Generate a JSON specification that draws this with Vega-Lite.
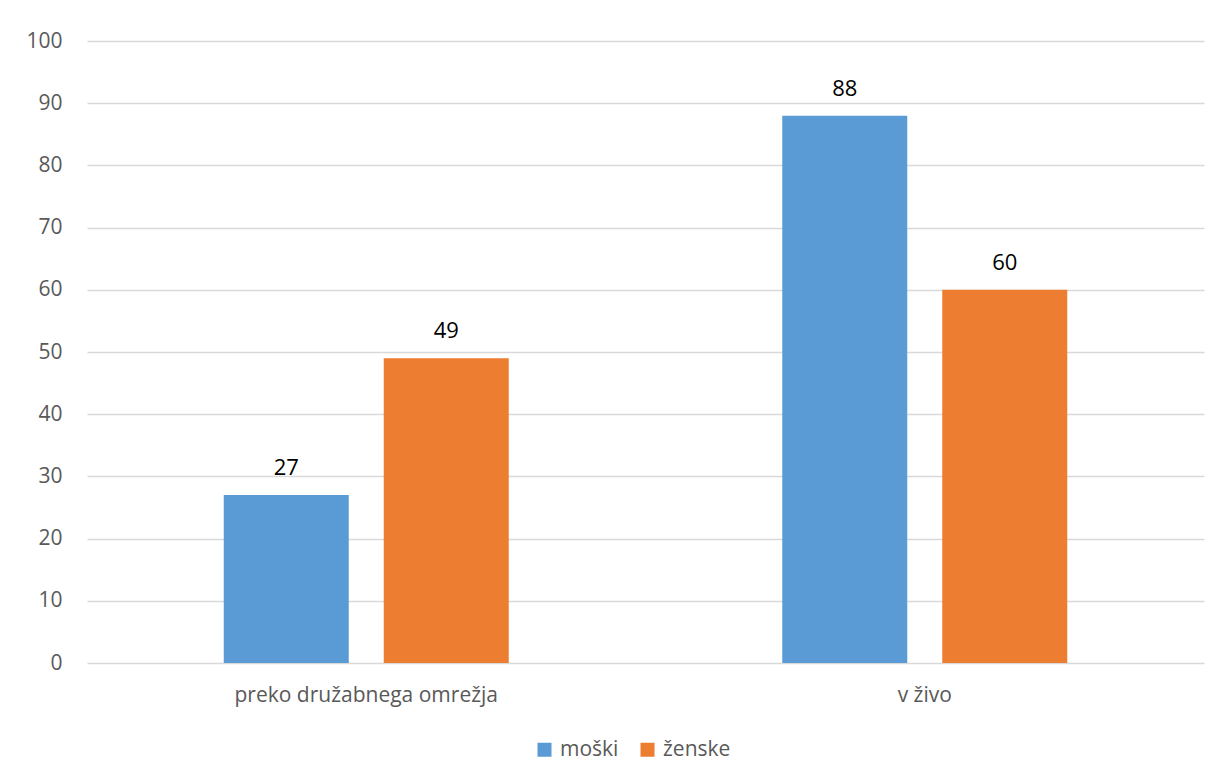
{
  "$schema": "https://vega.github.io/schema/vega-lite/v6.json",
  "width": 1117,
  "height": 622,
  "autosize": "none",
  "padding": {"left": 87, "top": 41, "right": 19, "bottom": 113},
  "background": "white",
  "config": {
    "view": {"stroke": null},
    "font": "Open Sans",
    "axis": {"labelFont": "Open Sans", "labelColor": "#595959", "labelFontSize": 21, "domain": false, "ticks": false, "title": null},
    "legend": {"labelFont": "Open Sans", "labelColor": "#595959", "labelFontSize": 21}
  },
  "data": {
    "values": [
      {"kategorija": "preko družabnega omrežja", "spol": "moški", "vrednost": 27},
      {"kategorija": "preko družabnega omrežja", "spol": "ženske", "vrednost": 49},
      {"kategorija": "v živo", "spol": "moški", "vrednost": 88},
      {"kategorija": "v živo", "spol": "ženske", "vrednost": 60}
    ]
  },
  "encoding": {
    "x": {
      "field": "kategorija", "type": "nominal", "sort": null,
      "scale": {"paddingInner": 0, "paddingOuter": 0},
      "axis": {"labelAngle": 0, "labelPadding": 21, "grid": false, "labelLimit": 0}
    },
    "xOffset": {
      "field": "spol", "type": "nominal",
      "scale": {"paddingInner": 0.21875, "paddingOuter": 0.8547}
    },
    "y": {
      "field": "vrednost", "type": "quantitative",
      "scale": {"domain": [0, 100]},
      "axis": {"values": [0,10,20,30,40,50,60,70,80,90,100], "labelPadding": 25, "gridColor": "#D9D9D9", "gridWidth": 1.5}
    }
  },
  "layer": [
    {
      "mark": {"type": "bar"},
      "encoding": {
        "color": {
          "field": "spol", "type": "nominal",
          "scale": {"domain": ["moški", "ženske"], "range": ["#5B9BD5", "#ED7D31"]},
          "legend": {"title": null, "orient": "none", "direction": "horizontal", "legendX": 447, "legendY": 698, "symbolType": "square", "symbolSize": 196, "symbolStrokeWidth": 0, "columnPadding": 18, "labelOffset": 5}
        }
      }
    },
    {
      "mark": {"type": "text", "dy": -27, "fontSize": 22, "color": "#000000", "font": "Open Sans"},
      "encoding": {"text": {"field": "vrednost", "type": "quantitative"}}
    }
  ]
}
